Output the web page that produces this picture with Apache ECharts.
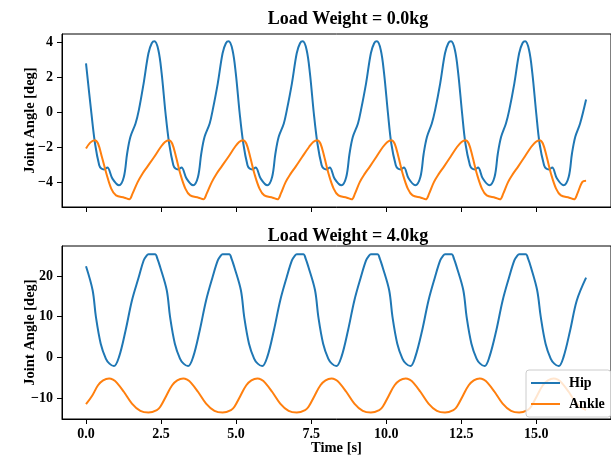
<!DOCTYPE html>
<html>
<head>
<meta charset="utf-8">
<script src="https://cdn.jsdelivr.net/npm/echarts@6/dist/echarts.min.js"></script>
<style>html,body{margin:0;padding:0;background:#fff}#c{width:611px;height:458px}</style>
</head>
<body>
<div id="c"></div>
<script>
// ---- data: [time (s), joint angle (deg)] ----
const hipLight = [
[0,2.8],[0.18,-0.06],[0.30,-1.77],[0.44,-3.01],[0.51,-3.2],[0.60,-3.25],[0.71,-3.14],[0.88,-3.77],
[1.10,-4.15],[1.26,-3.68],[1.37,-2.34],[1.48,-1.39],[1.65,-0.63],[1.76,0.13],[1.92,1.66],[2.08,3.37],[2.19,3.94],[2.28,4.05],[2.41,3.56],[2.52,2.23],[2.65,-0.06],[2.77,-1.77],[2.91,-3.01],[2.98,-3.2],[3.07,-3.25],[3.18,-3.14],[3.35,-3.77],
[3.57,-4.15],[3.73,-3.68],[3.84,-2.34],[3.95,-1.39],[4.12,-0.63],[4.22,0.13],[4.39,1.66],[4.55,3.37],[4.66,3.94],[4.75,4.05],[4.88,3.56],[4.99,2.23],[5.12,-0.06],[5.24,-1.77],[5.38,-3.01],[5.45,-3.2],[5.54,-3.25],[5.65,-3.14],[5.82,-3.77],
[6.04,-4.15],[6.20,-3.68],[6.31,-2.34],[6.42,-1.39],[6.59,-0.63],[6.69,0.13],[6.86,1.66],[7.02,3.37],[7.13,3.94],[7.22,4.05],[7.35,3.56],[7.46,2.23],[7.59,-0.06],[7.71,-1.77],[7.85,-3.01],[7.92,-3.2],[8.01,-3.25],[8.12,-3.14],[8.28,-3.77],
[8.51,-4.15],[8.67,-3.68],[8.78,-2.34],[8.89,-1.39],[9.06,-0.63],[9.16,0.13],[9.33,1.66],[9.49,3.37],[9.60,3.94],[9.69,4.05],[9.82,3.56],[9.93,2.23],[10.06,-0.06],[10.17,-1.77],[10.32,-3.01],[10.39,-3.2],[10.48,-3.25],[10.59,-3.14],[10.75,-3.77],
[10.97,-4.15],[11.14,-3.68],[11.25,-2.34],[11.36,-1.39],[11.52,-0.63],[11.63,0.13],[11.80,1.66],[11.96,3.37],[12.07,3.94],[12.16,4.05],[12.29,3.56],[12.40,2.23],[12.53,-0.06],[12.64,-1.77],[12.79,-3.01],[12.86,-3.2],[12.95,-3.25],[13.06,-3.14],[13.22,-3.77],
[13.44,-4.15],[13.61,-3.68],[13.72,-2.34],[13.83,-1.39],[13.99,-0.63],[14.10,0.13],[14.27,1.66],[14.43,3.37],[14.54,3.94],[14.63,4.05],[14.76,3.56],[14.87,2.23],[15.00,-0.06],[15.11,-1.77],[15.26,-3.01],[15.33,-3.2],[15.42,-3.25],[15.53,-3.14],[15.69,-3.77],
[15.91,-4.15],[16.08,-3.68],[16.19,-2.34],[16.30,-1.39],[16.46,-0.63],[16.66,0.74]
];
const ankleLight = [
[0,-2.06],[0.14,-1.72],
[0.29,-1.58],[0.40,-1.77],[0.53,-2.54],[0.68,-3.49],[0.84,-4.34],[1.00,-4.73],[1.28,-4.86],[1.44,-4.95],[1.55,-4.63],[1.72,-3.97],[1.88,-3.49],[2.04,-3.1],[2.27,-2.54],[2.49,-1.97],[2.63,-1.68],
[2.76,-1.58],[2.87,-1.77],[3.00,-2.54],[3.14,-3.49],[3.31,-4.34],[3.47,-4.73],[3.75,-4.86],[3.91,-4.95],[4.02,-4.63],[4.19,-3.97],[4.35,-3.49],[4.51,-3.1],[4.74,-2.54],[4.96,-1.97],[5.10,-1.68],
[5.23,-1.58],[5.34,-1.77],[5.47,-2.54],[5.61,-3.49],[5.78,-4.34],[5.94,-4.73],[6.22,-4.86],[6.38,-4.95],[6.49,-4.63],[6.65,-3.97],[6.82,-3.49],[6.98,-3.1],[7.20,-2.54],[7.43,-1.97],[7.57,-1.68],
[7.70,-1.58],[7.81,-1.77],[7.94,-2.54],[8.08,-3.49],[8.25,-4.34],[8.41,-4.73],[8.69,-4.86],[8.85,-4.95],[8.96,-4.63],[9.12,-3.97],[9.29,-3.49],[9.45,-3.1],[9.67,-2.54],[9.89,-1.97],[10.04,-1.68],
[10.17,-1.58],[10.28,-1.77],[10.41,-2.54],[10.55,-3.49],[10.72,-4.34],[10.88,-4.73],[11.16,-4.86],[11.32,-4.95],[11.43,-4.63],[11.59,-3.97],[11.76,-3.49],[11.92,-3.1],[12.14,-2.54],[12.36,-1.97],[12.51,-1.68],
[12.64,-1.58],[12.75,-1.77],[12.88,-2.54],[13.02,-3.49],[13.19,-4.34],[13.35,-4.73],[13.63,-4.86],[13.79,-4.95],[13.90,-4.63],[14.06,-3.97],[14.23,-3.49],[14.39,-3.1],[14.61,-2.54],[14.83,-1.97],[14.98,-1.68],
[15.11,-1.58],[15.22,-1.77],[15.35,-2.54],[15.49,-3.49],[15.66,-4.34],[15.82,-4.73],[16.10,-4.86],[16.26,-4.95],[16.37,-4.63],[16.53,-3.97],[16.66,-3.9]
];
const hipLoaded = [
[0,22.4],[0.22,16.5],[0.33,9.95],[0.49,3.4],[0.66,-0.25],[0.78,-1.5],
[0.93,-2.1],[1.10,0.15],[1.32,6.7],[1.53,14.0],[1.76,19.8],[1.92,23.8],[2.02,25.0],[2.08,25.3],[2.30,25.3],[2.38,24.2],[2.47,22.2],[2.69,16.5],[2.80,9.95],[2.96,3.4],[3.13,-0.25],[3.25,-1.5],
[3.40,-2.1],[3.57,0.15],[3.79,6.7],[4.00,14.0],[4.22,19.8],[4.39,23.8],[4.49,25.0],[4.55,25.3],[4.77,25.3],[4.85,24.2],[4.94,22.2],[5.16,16.5],[5.27,9.95],[5.43,3.4],[5.60,-0.25],[5.72,-1.5],
[5.87,-2.1],[6.04,0.15],[6.26,6.7],[6.47,14.0],[6.69,19.8],[6.86,23.8],[6.96,25.0],[7.02,25.3],[7.24,25.3],[7.32,24.2],[7.41,22.2],[7.63,16.5],[7.74,9.95],[7.90,3.4],[8.07,-0.25],[8.19,-1.5],
[8.34,-2.1],[8.51,0.15],[8.73,6.7],[8.94,14.0],[9.16,19.8],[9.33,23.8],[9.43,25.0],[9.49,25.3],[9.71,25.3],[9.79,24.2],[9.88,22.2],[10.10,16.5],[10.21,9.95],[10.37,3.4],[10.54,-0.25],[10.66,-1.5],
[10.81,-2.1],[10.97,0.15],[11.20,6.7],[11.41,14.0],[11.63,19.8],[11.80,23.8],[11.90,25.0],[11.96,25.3],[12.18,25.3],[12.26,24.2],[12.35,22.2],[12.57,16.5],[12.68,9.95],[12.84,3.4],[13.01,-0.25],[13.13,-1.5],
[13.28,-2.1],[13.44,0.15],[13.67,6.7],[13.88,14.0],[14.10,19.8],[14.27,23.8],[14.37,25.0],[14.43,25.3],[14.65,25.3],[14.73,24.2],[14.82,22.2],[15.03,16.5],[15.15,9.95],[15.31,3.4],[15.48,-0.25],[15.60,-1.5],
[15.75,-2.1],[15.91,0.15],[16.13,6.7],[16.35,14.0],[16.66,19.6]
];
const ankleLoaded = [
[0,-11.45],[0.21,-9.3],[0.40,-6.8],[0.57,-5.6],
[0.77,-5.15],[0.90,-5.45],[1.03,-6.2],[1.26,-8.4],[1.53,-11.3],[1.81,-13.1],[2.08,-13.5],[2.36,-12.9],[2.48,-12.0],[2.68,-9.3],[2.87,-6.8],[3.04,-5.6],
[3.24,-5.15],[3.37,-5.45],[3.50,-6.2],[3.73,-8.4],[4.00,-11.3],[4.28,-13.1],[4.55,-13.5],[4.83,-12.9],[4.95,-12.0],[5.15,-9.3],[5.34,-6.8],[5.51,-5.6],
[5.71,-5.15],[5.84,-5.45],[5.97,-6.2],[6.20,-8.4],[6.47,-11.3],[6.75,-13.1],[7.02,-13.5],[7.30,-12.9],[7.42,-12.0],[7.62,-9.3],[7.81,-6.8],[7.98,-5.6],
[8.18,-5.15],[8.31,-5.45],[8.44,-6.2],[8.67,-8.4],[8.94,-11.3],[9.22,-13.1],[9.49,-13.5],[9.77,-12.9],[9.89,-12.0],[10.09,-9.3],[10.28,-6.8],[10.45,-5.6],
[10.65,-5.15],[10.78,-5.45],[10.91,-6.2],[11.14,-8.4],[11.41,-11.3],[11.69,-13.1],[11.96,-13.5],[12.24,-12.9],[12.36,-12.0],[12.56,-9.3],[12.75,-6.8],[12.92,-5.6],
[13.12,-5.15],[13.25,-5.45],[13.38,-6.2],[13.61,-8.4],[13.88,-11.3],[14.16,-13.1],[14.43,-13.5],[14.71,-12.9],[14.83,-12.0],[15.03,-9.3],[15.22,-6.8],[15.39,-5.6],
[15.58,-5.15],[15.72,-5.45],[15.85,-6.2],[16.08,-8.4],[16.35,-11.3],[16.66,-12.9]
];
const xTicks = [0, 2.5, 5, 7.5, 10, 12.5, 15];
const yTicksTop = [-4, -2, 0, 2, 4];
const yTicksBottom = [-10, 0, 10, 20];
const titles = ['Load Weight = 0.0kg', 'Load Weight = 4.0kg'];
const seriesNames = ['Hip', 'Ankle'];

const HIP = '#1f77b4', ANK = '#ff7f0e';
const FONT = '"Liberation Serif", "Times New Roman", serif';
const chart = echarts.init(document.getElementById('c'), null, {renderer: 'canvas'});

function xAx(idx, showLabels) {
  return {
    type: 'value', gridIndex: idx, min: -0.80, max: 17.49,
    axisLine: {show: true, onZero: false, lineStyle: {color: '#000', width: 1}},
    axisTick: {show: true, inside: false, length: 5, lineStyle: {color: '#000', width: 1}, customValues: xTicks},
    axisLabel: {show: showLabels, customValues: xTicks, formatter: v => v.toFixed(1), color: '#000',
      fontFamily: FONT, fontWeight: 'bold', fontSize: 14, margin: 8},
    splitLine: {show: false},
    name: showLabels ? 'Time [s]' : '', nameLocation: 'middle', nameGap: 22, nameMoveOverlap: false,
    nameTextStyle: {fontFamily: FONT, fontWeight: 'bold', fontSize: 14.5, color: '#000'}
  };
}
function yAx(idx, mn, mx, ticks) {
  return {
    type: 'value', gridIndex: idx, min: mn, max: mx,
    axisLine: {show: true, onZero: false, lineStyle: {color: '#000', width: 1}},
    axisTick: {show: true, inside: false, length: 5, lineStyle: {color: '#000', width: 1}, customValues: ticks},
    axisLabel: {customValues: ticks, formatter: v => (v < 0 ? '\u2212' + Math.abs(v) : String(v)), color: '#000',
      fontFamily: FONT, fontWeight: 'bold', fontSize: 14, margin: 9},
    splitLine: {show: false},
    name: 'Joint Angle [deg]', nameLocation: 'middle', nameGap: 24, nameRotate: 90, nameMoveOverlap: false,
    nameTextStyle: {fontFamily: FONT, fontWeight: 'bold', fontSize: 14.5, color: '#000'}
  };
}
function line(name, data, color, xi) {
  return {type: 'line', name, data, xAxisIndex: xi, yAxisIndex: xi, showSymbol: false, symbol: 'none',
    smooth: 0.35, lineStyle: {color, width: 2}, itemStyle: {color}, emphasis: {disabled: true}, animation: false};
}

chart.setOption({
  animation: false,
  backgroundColor: '#fff',
  title: [
    {text: titles[0], left: 343, top: 5, textAlign: 'center',
      textStyle: {fontFamily: FONT, fontWeight: 'bold', fontSize: 18, color: '#000'}},
    {text: titles[1], left: 343, top: 222, textAlign: 'center',
      textStyle: {fontFamily: FONT, fontWeight: 'bold', fontSize: 18, color: '#000'}}
  ],
  grid: [
    {left: 62, top: 34, width: 556, height: 173, show: true, borderColor: '#000', borderWidth: 1, backgroundColor: 'transparent'},
    {left: 62, top: 246, width: 556, height: 173, show: true, borderColor: '#000', borderWidth: 1, backgroundColor: 'transparent'}
  ],
  xAxis: [xAx(0, false), xAx(1, true)],
  yAxis: [yAx(0, -5.39, 4.47, yTicksTop), yAx(1, -15.08, 27.35, yTicksBottom)],
  legend: {
    data: seriesNames.map(n => ({name: n, icon: 'rect'})),
    orient: 'vertical', left: 526, top: 370, itemWidth: 29, itemHeight: 2, itemGap: 7,
    padding: [6, 6, 6, 5],
    backgroundColor: 'rgba(255,255,255,0.8)', borderColor: '#cccccc', borderWidth: 1, borderRadius: 3,
    textStyle: {fontFamily: FONT, fontWeight: 'bold', fontSize: 14, color: '#000', padding: [0, 0, 0, 4]},
    z: 10
  },
  series: [
    line(seriesNames[0], hipLight, HIP, 0),
    line(seriesNames[1], ankleLight, ANK, 0),
    line(seriesNames[0], hipLoaded, HIP, 1),
    line(seriesNames[1], ankleLoaded, ANK, 1)
  ]
});
</script>
</body>
</html>
